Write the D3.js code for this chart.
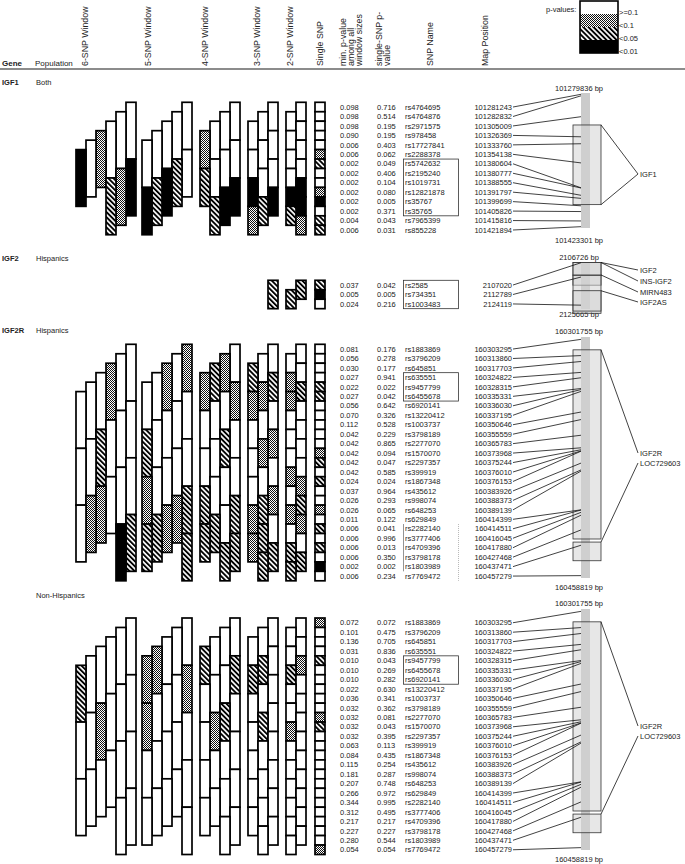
<!DOCTYPE html>
<meta charset="utf-8">
<head>
<script src="https://d3js.org/d3.v7.min.js"></script>
<style>
  body { margin: 0; background: #fff; }
  text { font-family: "Liberation Sans", Arial, Helvetica, sans-serif; font-size: 7.5px; fill: #222; }
  .bold { font-weight: bold; }
  .head { font-size: 8.8px; }
</style>
</head>
<body>
<div id="my_dataviz"></div>
<script>

// p-value classes: 0 = >=0.1, 1 = <0.1, 2 = <0.05, 3 = <0.01
var pLabels = [">=0.1", "<0.1", "<0.05", "<0.01"];
var windowSizes = [6, 5, 4, 3, 2];

// IGF1, both populations
var igf1Names = ["rs4764695","rs4764876","rs2971575","rs978458","rs17727841","rs2288378","rs5742632","rs2195240","rs1019731","rs12821878","rs35767","rs35765","rs7965399","rs855228"];
var igf1Pos = [101281243,101282832,101305009,101326369,101333760,101354138,101380604,101380777,101388555,101391797,101399699,101405826,101415816,101421894];
var igf1MinP = [0.098,0.098,0.098,0.090,0.006,0.006,0.002,0.002,0.002,0.002,0.002,0.002,0.004,0.006];
var igf1SingleP = [0.716,0.514,0.195,0.195,0.403,0.062,0.049,0.406,0.104,0.080,0.005,0.371,0.043,0.031];
var igf1Win6 = [0,0,0,1,0,3,3,1,2];
var igf1Win5 = [0,0,0,0,0,0,2,3,2,3];
var igf1Win4 = [0,0,0,1,0,0,0,2,3,3,2];
var igf1Win3 = [0,0,0,0,0,0,0,0,3,3,2,1];
var igf1Win2 = [0,0,0,0,0,0,0,0,3,3,3,2,1];
var igf1Range = [101279836, 101423301];
var igf1Genes = ["IGF1"];
var igf1GeneStart = [101313808];
var igf1GeneEnd = [101398471];

// IGF2, Hispanics
var igf2Names = ["rs2585","rs734351","rs1003483"];
var igf2Pos = [2107020,2112789,2124119];
var igf2MinP = [0.037,0.005,0.024];
var igf2SingleP = [0.042,0.005,0.216];
var igf2Win3 = [2];
var igf2Win2 = [2,2];
var igf2Range = [2106726, 2125665];
var igf2Genes = ["IGF2","INS-IGF2","MIRN483","IGF2AS"];
var igf2GeneStart = [2106923,2106923,2111950,2118300];
var igf2GeneEnd = [2116065,2127400,2112030,2126500];

// IGF2R, same SNPs for both populations
var igf2rNames = ["rs1883869","rs3796209","rs645851","rs635551","rs9457799","rs6455678","rs6920141","rs13220412","rs1003737","rs3798189","rs2277070","rs1570070","rs2297357","rs399919","rs1867348","rs435612","rs998074","rs648253","rs629849","rs2282140","rs3777406","rs4709396","rs3798178","rs1803989","rs7769472"];
var igf2rPos = [160303295,160313860,160317703,160324822,160328315,160335331,160336030,160337195,160350646,160355559,160365783,160373968,160375244,160376010,160376153,160383926,160388373,160389139,160414399,160414511,160416045,160417880,160427468,160437471,160457279];
var igf2rRange = [160301755, 160458819];
var igf2rGenes = ["IGF2R","LOC729603"];
var igf2rGeneStart = [160310121,160435400];
var igf2rGeneEnd = [160433400,160447573];

// IGF2R, Hispanics
var hisMinP = [0.081,0.056,0.030,0.027,0.022,0.027,0.056,0.070,0.112,0.042,0.042,0.042,0.042,0.042,0.024,0.037,0.026,0.026,0.011,0.006,0.006,0.006,0.006,0.002,0.006];
var hisSingleP = [0.176,0.278,0.177,0.941,0.022,0.042,0.642,0.326,0.528,0.229,0.865,0.094,0.047,0.585,0.024,0.964,0.293,0.065,0.122,0.041,0.996,0.013,0.350,0.002,0.234];
var hisWin6 = [0,0,1,0,0,0,0,0,0,2,0,0,0,0,0,1,1,0,2,3];
var hisWin5 = [1,0,1,0,0,0,0,0,0,2,0,0,0,0,1,2,1,1,2,2,2];
var hisWin4 = [0,1,2,1,1,0,0,0,0,2,0,0,0,0,0,2,2,0,2,2,2,2];
var hisWin3 = [0,0,2,2,1,1,0,0,0,1,1,0,0,0,0,1,2,1,0,2,1,2,2];
var hisWin2 = [0,0,0,1,2,1,0,0,0,0,0,0,0,1,1,0,2,1,1,0,0,2,2,2];

// IGF2R, Non-Hispanics
var nonMinP = [0.072,0.101,0.136,0.031,0.010,0.010,0.010,0.022,0.036,0.032,0.032,0.032,0.032,0.063,0.084,0.115,0.181,0.207,0.266,0.344,0.312,0.217,0.227,0.280,0.054];
var nonSingleP = [0.072,0.475,0.705,0.836,0.043,0.269,0.282,0.630,0.341,0.362,0.081,0.043,0.395,0.113,0.435,0.254,0.287,0.748,0.972,0.995,0.495,0.217,0.227,0.544,0.054];
var nonWin6 = [0,0,0,0,0,2,0,0,0,1,0,0,0,0,0,0,0,0,0,0];
var nonWin5 = [0,0,0,1,1,1,0,0,0,1,0,0,0,0,0,0,0,0,0,0,0];
var nonWin4 = [0,0,0,2,2,0,0,0,0,2,1,0,0,0,0,0,0,0,0,0,0,0];
var nonWin3 = [0,0,0,0,2,2,0,0,0,0,2,0,0,0,0,0,0,0,0,0,0,0,0];
var nonWin2 = [0,0,0,0,1,2,0,0,0,0,0,1,0,0,0,0,0,0,0,0,0,0,0,0];

// layout
var W = 685, H = 864;
var rowH = 9.46, colW = 10;
var groupLeft = {6: 76, 5: 142, 4: 200, 3: 248, 2: 286, 1: 315};
var xMin = 340, xSingle = 377, xName = 405, xPosRight = 512;
var stripX = 581, stripW = 9, boxX = 573, boxW = 28, geneLabelX = 640;

var sections = [
  {gene: "IGF1", pop: "Both", titleY: 82, rowTop: 102.3,
   names: igf1Names, pos: igf1Pos, minP: igf1MinP, singleP: igf1SingleP,
   windows: [igf1Win6, igf1Win5, igf1Win4, igf1Win3, igf1Win2], nameBox: [6, 11],
   range: igf1Range, stripTop: 93, stripBottom: 228, bpTopY: 88.5, bpBottomY: 240,
   genes: igf1Genes, gStart: igf1GeneStart, gEnd: igf1GeneEnd, gLabelY: [174]},
  {gene: "IGF2", pop: "Hispanics", titleY: 258, rowTop: 280.3,
   names: igf2Names, pos: igf2Pos, minP: igf2MinP, singleP: igf2SingleP,
   windows: [[], [], [], igf2Win3, igf2Win2], nameBox: [0, 2],
   range: igf2Range, stripTop: 262, stripBottom: 309, bpTopY: 257, bpBottomY: 314,
   genes: igf2Genes, gStart: igf2GeneStart, gEnd: igf2GeneEnd, gLabelY: [270, 281, 292, 302]},
  {gene: "IGF2R", pop: "Hispanics", titleY: 330, rowTop: 344.3,
   names: igf2rNames, pos: igf2rPos, minP: hisMinP, singleP: hisSingleP,
   windows: [hisWin6, hisWin5, hisWin4, hisWin3, hisWin2], nameBox: [3, 5], extraBox: [19, 24],
   range: igf2rRange, stripTop: 337, stripBottom: 578, bpTopY: 331, bpBottomY: 587,
   genes: igf2rGenes, gStart: igf2rGeneStart, gEnd: igf2rGeneEnd, gLabelY: [453, 463]},
  {gene: "", pop: "Non-Hispanics", titleY: 595, rowTop: 618,
   names: igf2rNames, pos: igf2rPos, minP: nonMinP, singleP: nonSingleP,
   windows: [nonWin6, nonWin5, nonWin4, nonWin3, nonWin2], nameBox: [4, 6],
   range: igf2rRange, stripTop: 609, stripBottom: 850, bpTopY: 603, bpBottomY: 859,
   genes: igf2rGenes, gStart: igf2rGeneStart, gEnd: igf2rGeneEnd, gLabelY: [726, 736]}
];

var pClass = d3.scaleThreshold().domain([0.01, 0.05, 0.1]).range([3, 2, 1, 0]);
var fills = ["#fff", "url(#checker)", "url(#hatch)", "#000"];
var fmt = d3.format(".3f");

var svg = d3.select("#my_dataviz")
  .append("svg")
    .attr("width", W)
    .attr("height", H);

// fill patterns
var defs = svg.append("defs");
var chk = defs.append("pattern").attr("id", "checker")
  .attr("patternUnits", "userSpaceOnUse").attr("width", 2).attr("height", 2);
chk.append("rect").attr("width", 2).attr("height", 2).attr("fill", "#fff");
chk.append("rect").attr("width", 1).attr("height", 1).attr("fill", "#111");
chk.append("rect").attr("x", 1).attr("y", 1).attr("width", 1).attr("height", 1).attr("fill", "#111");
var hat = defs.append("pattern").attr("id", "hatch")
  .attr("patternUnits", "userSpaceOnUse").attr("width", 3.6).attr("height", 3.6)
  .attr("patternTransform", "rotate(-45)");
hat.append("rect").attr("width", 3.6).attr("height", 3.6).attr("fill", "#fff");
hat.append("rect").attr("width", 1.9).attr("height", 3.6).attr("fill", "#000");

// header
var headers = [
  {x: 88, lines: ["6-SNP Window"]},
  {x: 151, lines: ["5-SNP Window"]},
  {x: 208, lines: ["4-SNP Window"]},
  {x: 260, lines: ["3-SNP Window"]},
  {x: 293, lines: ["2-SNP Window"]},
  {x: 323, lines: ["Single SNP"]},
  {x: 346, lines: ["min. p-value", "among all", "window sizes"]},
  {x: 382, lines: ["single-SNP p-", "value"]},
  {x: 433, lines: ["SNP Name"]},
  {x: 488, lines: ["Map Position"]}
];
headers.forEach(function(h) {
  var t = svg.append("text")
    .attr("class", "head")
    .attr("transform", "translate(" + h.x + ",66) rotate(-90)");
  h.lines.forEach(function(l, i) {
    t.append("tspan").attr("x", 0).attr("dy", i == 0 ? 0 : 7.8).text(l);
  });
});
svg.append("text").attr("class", "bold").attr("x", 2).attr("y", 66).style("font-size", "8px").text("Gene");
svg.append("text").attr("x", 35).attr("y", 66).style("font-size", "8px").text("Population");
svg.append("line")
  .attr("x1", 0).attr("x2", W).attr("y1", 69).attr("y2", 69)
  .attr("stroke", "#666").attr("stroke-width", 1.5);

// legend
var ly = d3.scaleLinear().domain([0, 4]).range([1, 53]);
svg.append("text").attr("x", 546).attr("y", 12).text("p-values:");
svg.selectAll(".leg")
  .data(pLabels)
  .enter()
  .append("rect")
    .attr("x", 580).attr("y", function(d, i) { return ly(i); })
    .attr("width", 38).attr("height", function(d, i) { return ly(i + 1) - ly(i); })
    .attr("fill", function(d, i) { return fills[i]; });
svg.append("rect").attr("x", 580).attr("y", ly(0)).attr("width", 38).attr("height", ly(4) - ly(0))
  .attr("fill", "none").attr("stroke", "#000").attr("stroke-width", 1.6);
svg.selectAll(".legt")
  .data(pLabels)
  .enter()
  .append("text")
    .attr("x", 619).attr("y", function(d, i) { return ly(i + 1) + 1; })
    .text(function(d) { return d; });

// sections
sections.forEach(function(s) {
  var n = s.names.length;
  var g = svg.append("g");
  var y = d3.scaleLinear().domain([0, n]).range([s.rowTop, s.rowTop + n * rowH]);
  var mid = function(i) { return y(i + 0.5) + 2.7; };

  if (s.gene) g.append("text").attr("class", "bold").attr("x", 2).attr("y", s.titleY + 2.7).text(s.gene);
  g.append("text").attr("x", 36).attr("y", s.titleY + 2.7).text(s.pop);

  // window bars
  s.windows.forEach(function(vals, wi) {
    var k = windowSizes[wi];
    var x = d3.scaleLinear().domain([0, k]).range([groupLeft[k], groupLeft[k] + k * colW]);
    g.selectAll(null)
      .data(vals.map(function(v, st) { return {v: v, s: st}; }))
      .enter()
      .append("rect")
        .attr("x", function(d) { return x((k - 1) - d.s % k); })
        .attr("y", function(d) { return y(d.s); })
        .attr("width", colW)
        .attr("height", function(d) { return y(d.s + k) - y(d.s); })
        .attr("fill", function(d) { return fills[d.v]; })
        .attr("stroke", "#000")
        .attr("stroke-width", 1.7);
  });

  // single SNP cells
  g.selectAll(null)
    .data(s.singleP)
    .enter()
    .append("rect")
      .attr("x", groupLeft[1])
      .attr("y", function(d, i) { return y(i); })
      .attr("width", colW)
      .attr("height", rowH)
      .attr("fill", function(d) { return fills[pClass(d)]; })
      .attr("stroke", "#000")
      .attr("stroke-width", 1.7);

  // text columns
  var cols = [
    {x: xMin, vals: s.minP.map(fmt), anchor: "start"},
    {x: xSingle, vals: s.singleP.map(fmt), anchor: "start"},
    {x: xName, vals: s.names, anchor: "start"},
    {x: xPosRight, vals: s.pos, anchor: "end"}
  ];
  cols.forEach(function(c) {
    g.selectAll(null)
      .data(c.vals)
      .enter()
      .append("text")
        .attr("x", c.x)
        .attr("y", function(d, i) { return mid(i); })
        .attr("text-anchor", c.anchor)
        .text(function(d) { return d; });
  });

  g.append("rect")
    .attr("x", xName - 1.5).attr("y", y(s.nameBox[0]))
    .attr("width", 55).attr("height", y(s.nameBox[1] + 1) - y(s.nameBox[0]))
    .attr("fill", "none").attr("stroke", "#333").attr("stroke-width", 0.8);
  if (s.extraBox) {
    g.append("line")
      .attr("x1", xName - 1.5).attr("x2", xName - 1.5)
      .attr("y1", y(s.extraBox[0])).attr("y2", y(s.extraBox[1]))
      .attr("stroke", "#666").attr("stroke-width", 0.7);
    g.append("line")
      .attr("x1", xName + 53.5).attr("x2", xName + 53.5)
      .attr("y1", y(s.extraBox[0])).attr("y2", y(s.extraBox[1] + 1))
      .attr("stroke", "#999").attr("stroke-width", 0.7).attr("stroke-dasharray", "1,1");
  }

  // chromosome map
  var yMap = d3.scaleLinear().domain(s.range).range([s.stripTop, s.stripBottom]);
  g.append("text").attr("x", 579).attr("y", s.bpTopY + 2.7).attr("text-anchor", "middle")
    .text(s.range[0] + " bp");
  g.append("text").attr("x", 579).attr("y", s.bpBottomY + 2.7).attr("text-anchor", "middle")
    .text(s.range[1] + " bp");
  g.append("rect")
    .attr("x", stripX).attr("y", yMap(s.range[0]))
    .attr("width", stripW).attr("height", yMap(s.range[1]) - yMap(s.range[0]))
    .attr("fill", "#cbcbcb");
  g.selectAll(null)
    .data(s.genes)
    .enter()
    .append("rect")
      .attr("x", boxX)
      .attr("y", function(d, i) { return yMap(s.gStart[i]); })
      .attr("width", boxW)
      .attr("height", function(d, i) { return Math.max(0.5, yMap(s.gEnd[i]) - yMap(s.gStart[i])); })
      .attr("fill", "rgba(212,212,212,0.55)")
      .attr("stroke", "#333")
      .attr("stroke-width", 0.8);

  // gene labels with leader lines
  s.genes.forEach(function(name, i) {
    var ty = s.gLabelY[i];
    g.append("line")
      .attr("x1", boxX + boxW).attr("y1", yMap(s.gStart[i]))
      .attr("x2", geneLabelX - 2).attr("y2", ty)
      .attr("stroke", "#111").attr("stroke-width", 0.8);
    if (s.genes.length == 1) {
      g.append("line")
        .attr("x1", boxX + boxW).attr("y1", yMap(s.gEnd[i]))
        .attr("x2", geneLabelX - 2).attr("y2", ty)
        .attr("stroke", "#111").attr("stroke-width", 0.8);
    }
    g.append("text").attr("x", geneLabelX).attr("y", ty + 2.7).text(name);
  });

  // SNP position leaders
  g.selectAll(null)
    .data(s.pos)
    .enter()
    .append("line")
      .attr("x1", xPosRight + 1)
      .attr("y1", function(d, i) { return y(i + 0.5); })
      .attr("x2", stripX)
      .attr("y2", function(d) { return yMap(d); })
      .attr("stroke", "#111")
      .attr("stroke-width", 0.8);
});

</script>
</body>
